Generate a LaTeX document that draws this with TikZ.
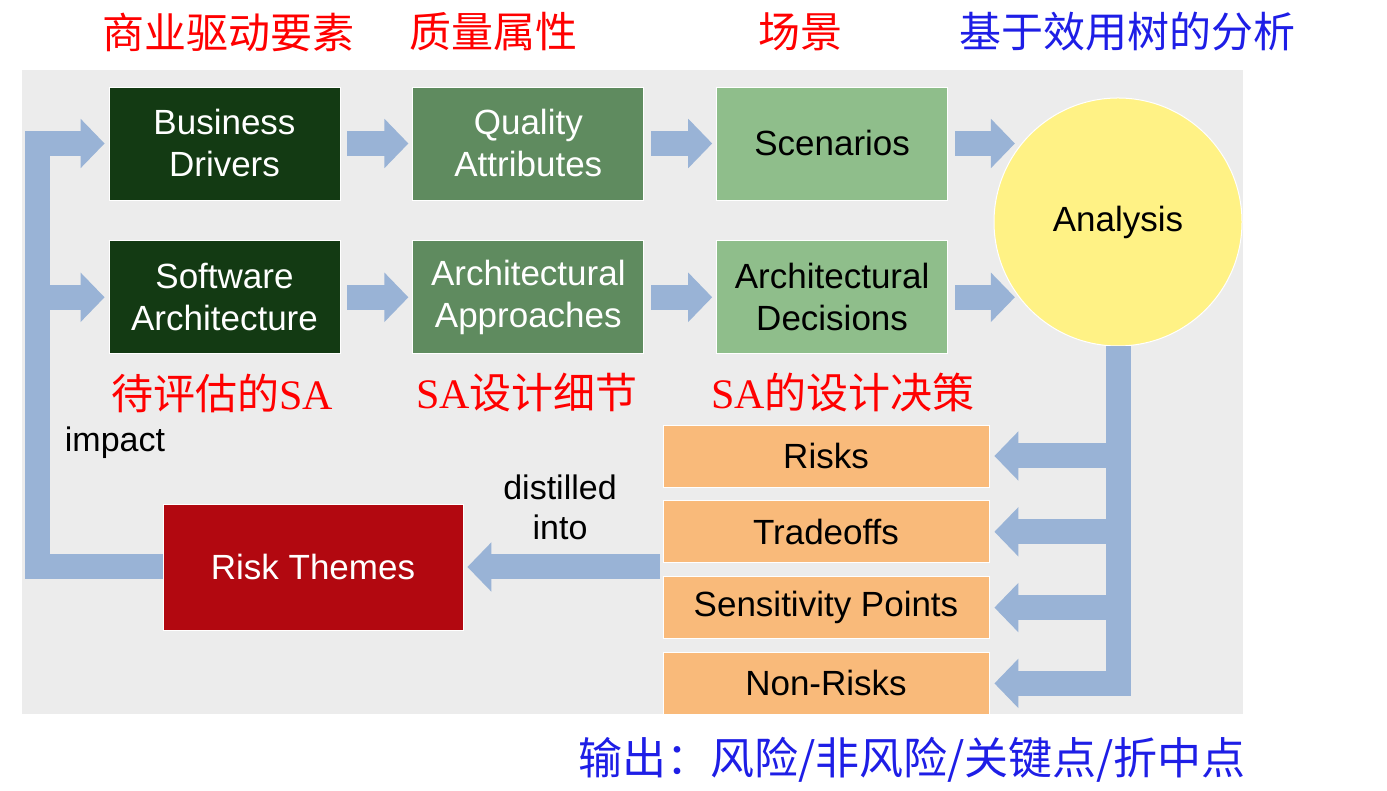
\documentclass[tikz,border=0pt]{standalone}
\usepackage{fontspec}
\setmainfont{Liberation Sans}
\newfontfamily\cjk{Noto Sans CJK SC}
\newfontfamily\saserif{Liberation Serif}
\usetikzlibrary{arrows.meta, positioning}

\definecolor{bggray}{RGB}{236,236,236}
\definecolor{darkgreen}{RGB}{19,58,19}
\definecolor{midgreen}{RGB}{95,139,95}
\definecolor{lightgreen}{RGB}{143,190,139}
\definecolor{sunyellow}{RGB}{255,242,133}
\definecolor{outorange}{RGB}{249,186,122}
\definecolor{themered}{RGB}{178,8,16}
\definecolor{flowblue}{RGB}{153,179,214}
\definecolor{labelred}{RGB}{255,0,0}
\definecolor{labelblue}{RGB}{30,30,230}

\begin{document}
\begin{tikzpicture}[
    x=1pt, y=1pt,
    node distance=40pt and 72pt,
    box/.style={
        rectangle, draw=white, line width=0.8pt,
        minimum width=231pt, minimum height=113pt,
        align=center, font=\fontsize{35}{42}\selectfont
    },
    outbox/.style={box, fill=outorange, minimum width=326pt, minimum height=62pt},
    flow/.style={line width=25pt, draw=flowblue, -{Triangle[width=48pt,length=24pt]}},
    cnlabel/.style={font=\cjk\fontsize{42}{46}\selectfont, text=labelred},
    plain/.style={font=\fontsize{34}{40}\selectfont, align=center}
]
    \useasboundingbox (0,0) rectangle (1387,791);
    \fill[bggray] (22,77) rectangle (1243,721);

    %% Inputs
    \node[box, fill=darkgreen, text=white] (bd) at (224.5,647.5) {Business\\Drivers};
    \node[box, fill=midgreen, text=white, right=of bd] (qa) {Quality\\Attributes};
    \node[box, fill=lightgreen, right=of qa] (sc) {Scenarios};
    \node[box, fill=darkgreen, text=white, below=of bd] (sa) {Software\\Architecture};
    \node[box, fill=midgreen, text=white, right=of sa] (aa) {Architectural\\Approaches};
    \node[box, fill=lightgreen, right=of aa] (ad) {Architectural\\Decisions};

    %% Analysis
    \node[circle, fill=sunyellow, draw=white, line width=1pt, minimum size=248pt,
          font=\fontsize{35}{40}\selectfont] (an) at (1118,569) {Analysis};

    %% Outputs
    \node[outbox] (rk) at (826,335) {Risks};
    \node[outbox, below=13pt of rk] (ts) {Tradeoffs};
    \node[outbox, below=13pt of ts] (sp) {Sensitivity Points};
    \node[outbox, below=13pt of sp] (nr) {Non-Risks};

    \node[box, fill=themered, text=white, minimum width=300pt, minimum height=126pt] (rt) at (313,224) {Risk Themes};
    \coordinate (loop) at (37,224);

    %% Labels
    \node[cnlabel] (t1) at (228,759) {商业驱动要素};
    \node[cnlabel] (t2) at (493,759) {质量属性};
    \node[cnlabel] (t3) at (800,759) {场景};
    \node[cnlabel, text=labelblue] (t4) at (1127,759) {基于效用树的分析};
    \node[cnlabel] (s1) at (222,398) {待评估的{\saserif SA}};
    \node[cnlabel] (s2) at (527,398) {{\saserif SA}设计细节};
    \node[cnlabel] (s3) at (843,398) {{\saserif SA}的设计决策};
    \node[cnlabel, text=labelblue, font=\cjk\fontsize{44}{48}\selectfont] (out) at (912,31) {输出：风险/非风险/关键点/折中点};
    \node[plain] (impact) at (115,348) {impact};
    \node[plain] (distil) at (560,284) {distilled\\into};

    %% Connectors
    \draw[flow, shorten <=7pt, shorten >=4pt] (bd) -- (qa);
    \draw[flow, shorten <=7pt, shorten >=4pt] (qa) -- (sc);
    \draw[flow, shorten <=7pt, shorten >=4pt] (sa) -- (aa);
    \draw[flow, shorten <=7pt, shorten >=4pt] (aa) -- (ad);
    \draw[flow, shorten <=7pt, shorten >=5pt] (sc.east) -- (sc.east -| an.142);
    \draw[flow, shorten <=7pt, shorten >=5pt] (ad.east) -- (ad.east -| an.218);
    \draw[flow, shorten >=5pt] (an.south) |- (nr.east);
    \draw[flow, shorten >=5pt] (an.south |- rk.east) -- (rk.east);
    \draw[flow, shorten >=5pt] (an.south |- ts.east) -- (ts.east);
    \draw[flow, shorten >=5pt] (an.south |- sp.east) -- (sp.east);
    \draw[flow, shorten <=3pt, shorten >=4pt] (rt.east -| rk.west) -- (rt.east);
    \draw[flow, shorten >=4pt] (rt.west) -| (loop |- bd.west) -- (bd.west);
    \draw[flow, shorten >=4pt] (loop |- sa.west) -- (sa.west);
\end{tikzpicture}
\end{document}
